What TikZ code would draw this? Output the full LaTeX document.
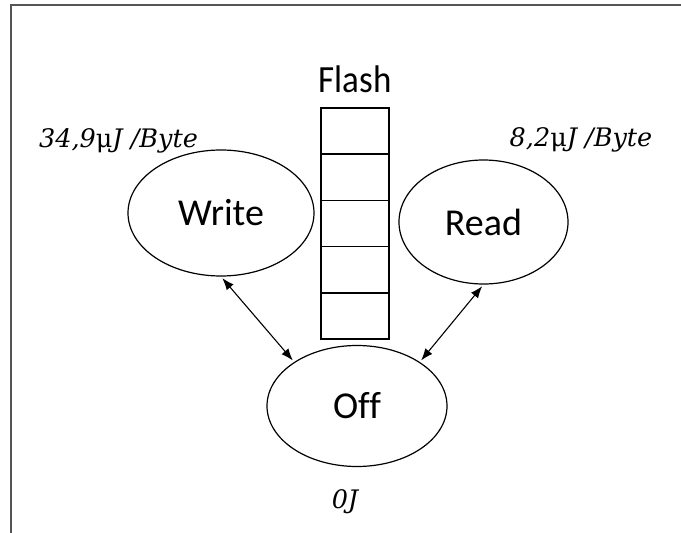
\documentclass[tikz,border=0pt]{standalone}
\usepackage{fontspec}
\setmainfont{Carlito}[Ligatures=NoCommon]
\newfontfamily\costfont{DejaVu Serif}
\usetikzlibrary{arrows.meta,shapes.geometric}
\definecolor{FrameLine}{HTML}{555555}

\begin{document}
\begin{tikzpicture}[x=1pt,y=-1pt,
    state/.style={draw,ellipse,line width=1.2pt,inner sep=0pt,font=\fontsize{38}{40}\selectfont},
    cost/.style={font=\costfont\itshape\fontsize{25.5}{27}\selectfont},
    link/.style={{Latex[length=12pt,width=9pt]}-{Latex[length=12pt,width=9pt]},line width=1.1pt,shorten <=2pt,shorten >=2pt}]
    \useasboundingbox (0,0) rectangle (681,533);
    \draw[FrameLine,line width=1.5pt] (11,533) -- (11,5) -- (681,5);
    % memory cells
    \foreach \i in {0,...,4} {
      \draw[line width=1.6pt] (321,107.7+46.3*\i) rectangle ++(68,46.3);
    }
    \node[font=\fontsize{35}{37}\selectfont,yscale=1.1] (flash) at (355,79) {Flash};
    \node[state,minimum width=186pt,minimum height=126pt] (write) at (221,213) {Write};
    \node[state,minimum width=169pt,minimum height=124pt] (read) at (483.5,222) {Read};
    \node[state,minimum width=180pt,minimum height=121pt] (off) at (357,406) {Off};
    \node[cost] (wcost) at (118.5,141) {34,9{\upshape μ}J /Byte};
    \node[cost] (rcost) at (581,140) {8,2{\upshape μ}J /Byte};
    \node[cost] (ocost) at (345,502) {0J};
    \draw[link] (write.south) -- (off.145);
    \draw[link] (read.south) -- (off.35);
  \end{tikzpicture}
\end{document}
